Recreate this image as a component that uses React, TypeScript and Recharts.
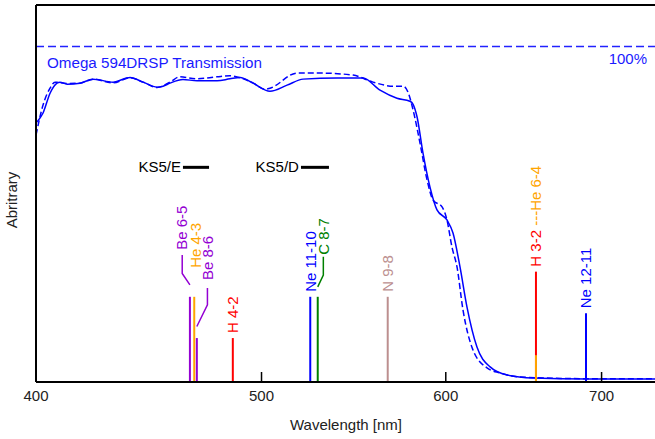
import React from 'react';
import { ComposedChart, Line, XAxis, YAxis, ReferenceLine } from 'recharts';

// ---------- data ----------
const X_DOMAIN: [number, number] = [400, 738];
const Y_DOMAIN: [number, number] = [0, 112.4];
const xTicks = [400, 500, 600, 700];

const solidWavelength = [400, 402.8, 405.6, 408.4, 409.6, 412.5, 417.8, 423.2, 431.7, 439.0, 444.7, 450.9, 453.6, 456.7, 462.6, 469.1, 478.5, 484.6, 489.5, 495.8, 504.2, 512.8, 521.0, 538.8, 552.8, 562.2, 571.7, 579.1, 580.9, 583.2, 586.6, 590.7, 594.8, 600.7, 604.3, 608.5, 612.7, 618.8, 626.9, 637.5, 654.1, 690.0, 738];
const solidTransmission = [77.2, 80.2, 86.1, 89.1, 89.4, 88.8, 89.1, 90.3, 89.4, 90.8, 89.4, 87.9, 88.2, 89.1, 90.2, 89.8, 89.8, 90.4, 90.8, 89.1, 86.7, 88.5, 90.3, 90.6, 90.6, 87.0, 84.6, 83.7, 82.8, 79.0, 68.3, 58.1, 51.3, 48.3, 44.4, 34.3, 22.4, 10.4, 4.5, 2.1, 1.2, 0.9, 0.9];

const dashedWavelength = [400, 402.8, 405.6, 407.6, 412.5, 417.8, 423.2, 431.7, 439.0, 444.7, 450.9, 456.7, 461.2, 469.1, 478.5, 484.6, 489.5, 495.8, 501.7, 504.2, 517.9, 529.8, 547.4, 558.3, 569.5, 575.2, 578.0, 580.9, 584.9, 589.0, 592.5, 597.8, 600.7, 603.7, 606.7, 610.3, 616.4, 625.0, 633.1, 645.7, 690.0, 738];
const dashedTransmission = [73.6, 82.6, 87.6, 89.4, 89.0, 89.1, 90.3, 89.2, 90.7, 89.4, 87.8, 89.4, 91.0, 90.4, 91.0, 91.3, 90.7, 89.2, 87.3, 87.6, 92.1, 92.1, 91.5, 89.4, 88.2, 88.2, 86.4, 81.1, 71.2, 60.2, 54.2, 52.2, 48.3, 40.2, 34.3, 21.5, 9.5, 4.2, 2.7, 1.5, 1.0, 1.0];

const lineNames = ['Be 6-5', 'He 4-3', 'Be 8-6', 'H 4-2', 'Ne 11-10', 'C 8-7', 'N 9-8', 'H 3-2', 'He 6-4', 'Ne 12-11'];
const lineWavelengths = [465.8, 467.8, 469.0, 486.0, 524.7, 528.6, 566.5, 656.0, 656.0, 689.3];
const lineHeights = [25.4, 25.4, 13.1, 13.1, 25.4, 25.4, 25.4, 32.9, 8.0, 20.5];

const filterNames = ['KS5/E', 'KS5/D'];
const filterStart = [462.6, 519.9];
const filterEnd = [474.7, 534.5];
const filterLevel = [64.0, 64.0];

// ---------- styles ----------
const FONT = '"Liberation Sans", Arial, Helvetica, sans-serif';
const BLUE = '#0000ff';
const elementColor: Record<string, string> = {
  Be: '#9400d3',
  He: '#ffa500',
  H: '#ff0000',
  Ne: '#0000ff',
  C: '#008000',
  N: '#bc8f8f',
};
const colorOf = (name: string) => elementColor[name.split(' ')[0]];

// label layout (pixel offsets relative to the top of each emission line)
type Layout = { dx: number; gap: number; leader?: [number, number][]; hidden?: boolean };
const labelLayout: Record<string, Layout> = {
  'Be 6-5': { dx: -8, gap: 47, leader: [[0, -12], [-7.7, -23.4], [-7.7, -41.7]] },
  'He 4-3': { dx: 1, gap: 29 },
  'Be 8-6': { dx: 10.6, gap: 58, leader: [[0, -11.6], [10.6, -33.3], [10.6, -50]] },
  'C 8-7': { dx: 6, gap: 42, leader: [[0, -10], [5.6, -21.7], [5.6, -40]] },
  'He 6-4': { dx: 0, gap: 0, hidden: true },
};

const solidData = solidWavelength.map((x, i) => ({ x, y: solidTransmission[i] }));
const dashedData = dashedWavelength.map((x, i) => ({ x, y: dashedTransmission[i] }));

const makeEmissionDot = (name: string) => (p: any) => {
  const { cx, cy, index } = p;
  const key = `${name}-${index}`;
  if (index !== 1 || cx == null || cy == null) return <g key={key} />;
  const lay = labelLayout[name] || { dx: 0, gap: 5 };
  if (lay.hidden) return <g key={key} />;
  const color = colorOf(name);
  const tx = cx + lay.dx + 5.3;
  const ty = cy - lay.gap;
  return (
    <g key={key}>
      {lay.leader && (
        <polyline
          points={lay.leader.map(([dx, dy]) => `${cx + dx},${cy + dy}`).join(' ')}
          fill="none"
          stroke={color}
          strokeWidth={1.5}
        />
      )}
      <text
        x={tx}
        y={ty}
        transform={`rotate(-90 ${tx} ${ty})`}
        fontFamily={FONT}
        fontSize={15}
        textAnchor="start"
        fill={color}
      >
        {name === 'H 3-2' ? (
          <>
            <tspan fill={elementColor.H}>H 3-2 </tspan>
            <tspan fill={elementColor.He}>---He 6-4</tspan>
          </>
        ) : (
          name
        )}
      </text>
    </g>
  );
};

const makeFilterDot = (name: string) => (p: any) => {
  const { cx, cy, index } = p;
  const key = `${name}-${index}`;
  if (index !== 0 || cx == null) return <g key={key} />;
  return (
    <text key={key} x={cx - 2} y={cy + 5} textAnchor="end" fontFamily={FONT} fontSize={15} fill="#000">
      {name}
    </text>
  );
};

const XTick = (props: any) => {
  const { x, y, payload } = props;
  return (
    <g>
      <line x1={x} y1={y} x2={x} y2={y - 10} stroke="#000" strokeWidth={1.5} />
      <text x={x} y={y + 18.5} textAnchor="middle" fontFamily={FONT} fontSize={15} fill="#222">
        {payload.value}
      </text>
    </g>
  );
};

export default function App() {
  return (
    <div style={{ position: 'absolute', left: 0, top: 0, width: 655, height: 439, background: '#fff' }}>
      <ComposedChart width={655} height={439} margin={{ top: 5, right: 0, bottom: 0, left: 0 }}>
        <XAxis
          dataKey="x"
          type="number"
          scale="log"
          domain={X_DOMAIN}
          allowDataOverflow
          ticks={xTicks}
          tick={<XTick />}
          tickLine={false}
          tickSize={0}
          tickMargin={0}
          height={57}
          axisLine={{ stroke: '#000', strokeWidth: 2 }}
          label={{
            content: () => (
              <text x={346} y={430} textAnchor="middle" fontFamily={FONT} fontSize={15} fill="#222">
                Wavelength [nm]
              </text>
            ),
          }}
        />
        <YAxis
          type="number"
          domain={Y_DOMAIN}
          allowDataOverflow
          width={36}
          tick={false}
          tickLine={false}
          axisLine={{ stroke: '#000', strokeWidth: 2 }}
          label={{
            content: () => (
              <text
                x={17}
                y={200}
                transform="rotate(-90 17 200)"
                textAnchor="middle"
                fontFamily={FONT}
                fontSize={15}
                fill="#222"
              >
                Abritrary
              </text>
            ),
          }}
        />
        <ReferenceLine y={Y_DOMAIN[1]} stroke="#000" strokeWidth={2} />
        <ReferenceLine
          y={100}
          stroke="#2222ff"
          strokeWidth={1.5}
          strokeDasharray="8 4"
          label={{
            content: (p: any) => {
              const vb = p.viewBox || { x: 36, y: 46.6, width: 619 };
              return (
                <g>
                  <text x={vb.x + 11} y={vb.y + 21} fontFamily={FONT} fontSize={15.2} fill="#1a1aff">
                    Omega 594DRSP Transmission
                  </text>
                  <text x={vb.x + vb.width - 8} y={vb.y + 17} textAnchor="end" fontFamily={FONT} fontSize={15} fill="#1a1aff">
                    100%
                  </text>
                </g>
              );
            },
          }}
        />
        <Line
          data={dashedData}
          dataKey="y"
          type="monotone"
          stroke={BLUE}
          strokeWidth={1.5}
          strokeDasharray="6 3"
          dot={false}
          isAnimationActive={false}
        />
        <Line
          data={solidData}
          dataKey="y"
          type="monotone"
          stroke={BLUE}
          strokeWidth={1.5}
          dot={false}
          isAnimationActive={false}
        />
        {lineNames.map((name, i) => (
          <Line
            key={name}
            data={[
              { x: lineWavelengths[i], y: 0 },
              { x: lineWavelengths[i], y: lineHeights[i] },
            ]}
            dataKey="y"
            type="linear"
            stroke={colorOf(name)}
            strokeWidth={2}
            dot={makeEmissionDot(name)}
            activeDot={false}
            isAnimationActive={false}
          />
        ))}
        {filterNames.map((name, i) => (
          <Line
            key={name}
            data={[
              { x: filterStart[i], y: filterLevel[i] },
              { x: filterEnd[i], y: filterLevel[i] },
            ]}
            dataKey="y"
            type="linear"
            stroke="#000"
            strokeWidth={3}
            dot={makeFilterDot(name)}
            activeDot={false}
            isAnimationActive={false}
          />
        ))}
      </ComposedChart>
    </div>
  );
}
